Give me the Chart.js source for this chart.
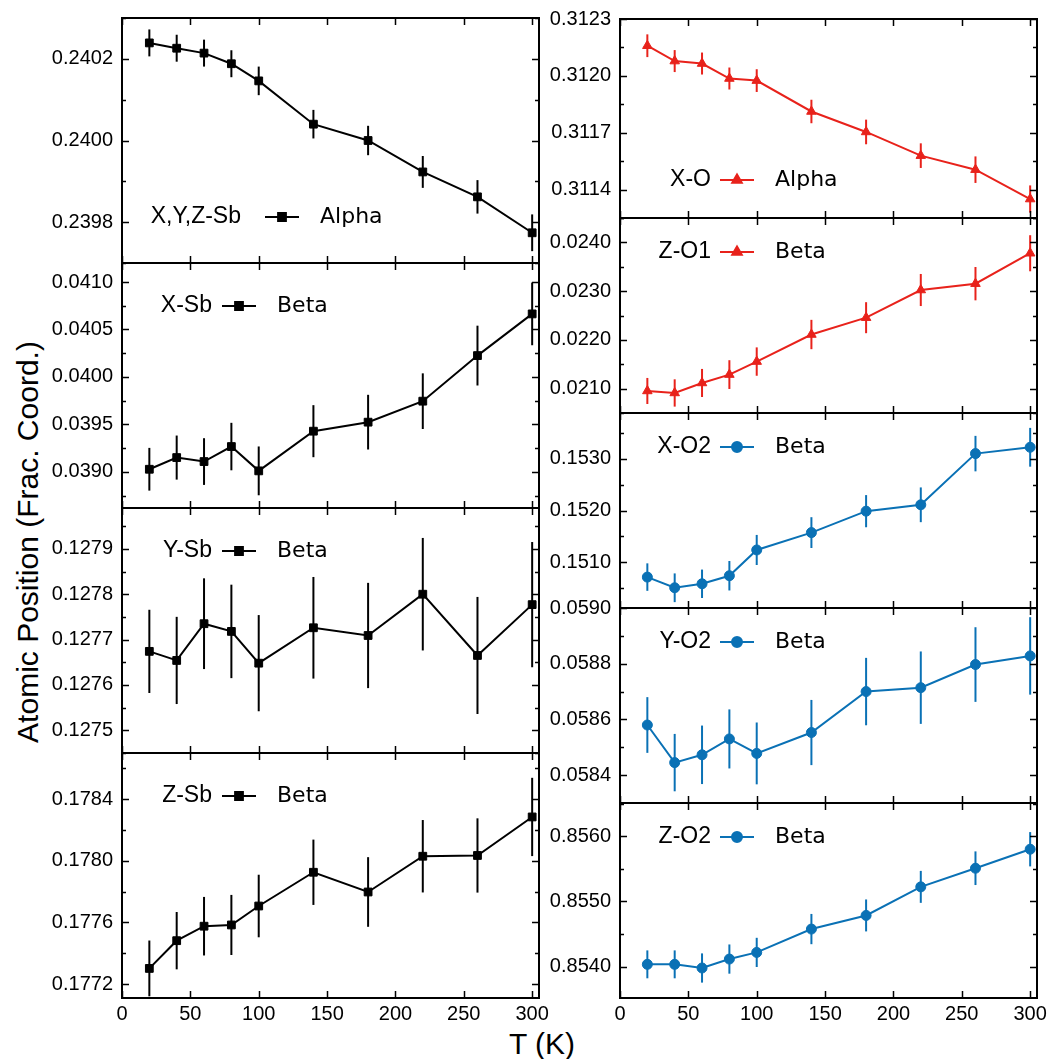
<!DOCTYPE html>
<html>
<head>
<meta charset="utf-8">
<script src="https://cdn.jsdelivr.net/npm/chart.js@4.4.1/dist/chart.umd.min.js"></script>
<style>
  body { margin: 0; background: #fff; width: 1052px; height: 1059px; position: relative; overflow: hidden; }
  canvas { position: absolute; }
  .title { position: absolute; font-family: "Liberation Sans", Arial, sans-serif; font-size: 30px; color: #000; white-space: nowrap; }
</style>
</head>
<body>
<div class="title" id="ytitle" style="left:28px;top:542px;transform:translate(-50%,-50%) rotate(-90deg);">Atomic Position (Frac. Coord.)</div>
<div class="title" id="xtitle" style="left:542px;top:1044px;transform:translate(-50%,-50%);">T (K)</div>
<script>
// temperatures (K)
const temps = [20, 40, 60, 80, 100, 140, 180, 220, 260, 300];
const xTicks = [0, 50, 100, 150, 200, 250, 300];

// Sb positions
const xyzSbAlpha    = [0.240239, 0.240226, 0.240214, 0.240188, 0.240146, 0.240040, 0.240000, 0.239923, 0.239862, 0.239774];
const xyzSbAlphaErr = [0.000033, 0.000033, 0.000033, 0.000033, 0.000035, 0.000035, 0.000036, 0.000039, 0.000041, 0.000045];
const xSbBeta    = [0.039028, 0.039151, 0.039109, 0.039267, 0.039011, 0.039429, 0.039524, 0.039745, 0.040225, 0.040664];
const xSbBetaErr = [0.000225, 0.000232, 0.000246, 0.000250, 0.000257, 0.000274, 0.000288, 0.000293, 0.000315, 0.000330];
const ySbBeta    = [0.127674, 0.127654, 0.127735, 0.127718, 0.127648, 0.127726, 0.127709, 0.127800, 0.127665, 0.127777];
const ySbBetaErr = [0.0000917, 0.0000961, 0.000100, 0.000103, 0.000106, 0.000112, 0.000116, 0.000124, 0.000129, 0.000138];
const zSbBeta    = [0.177302, 0.177482, 0.177576, 0.177584, 0.177707, 0.177926, 0.177798, 0.178030, 0.178035, 0.178285];
const zSbBetaErr = [0.000181, 0.000186, 0.000190, 0.000195, 0.000203, 0.000212, 0.000226, 0.000235, 0.000241, 0.000254];

// O positions
const xOAlpha    = [0.312159, 0.312078, 0.312065, 0.311986, 0.311975, 0.311812, 0.311704, 0.311579, 0.311505, 0.311350];
const xOAlphaErr = [0.000060, 0.000058, 0.000058, 0.000058, 0.000060, 0.000062, 0.000065, 0.000065, 0.000070, 0.000072];
const zO1Beta    = [0.020952, 0.020911, 0.021116, 0.021288, 0.021555, 0.022110, 0.022455, 0.023023, 0.023153, 0.023777];
const zO1BetaErr = [0.000267, 0.000280, 0.000288, 0.000295, 0.000291, 0.000301, 0.000318, 0.000329, 0.000342, 0.000370];
const xO2Beta    = [0.150716, 0.150510, 0.150587, 0.150742, 0.151239, 0.151574, 0.151987, 0.152110, 0.153097, 0.153219];
const xO2BetaErr = [0.000265, 0.000277, 0.000274, 0.000284, 0.000290, 0.000297, 0.000310, 0.000335, 0.000342, 0.000374];
const yO2Beta    = [0.058580, 0.058445, 0.058473, 0.058530, 0.058478, 0.058553, 0.058700, 0.058714, 0.058797, 0.058828];
const yO2BetaErr = [0.000100, 0.000103, 0.000105, 0.000106, 0.000111, 0.000117, 0.000121, 0.000130, 0.000134, 0.000139];
const zO2Beta    = [0.854036, 0.854036, 0.853980, 0.854117, 0.854219, 0.854577, 0.854786, 0.855224, 0.855510, 0.855801];
const zO2BetaErr = [0.000214, 0.000214, 0.000224, 0.000224, 0.000224, 0.000232, 0.000245, 0.000245, 0.000258, 0.000263];

// y tick labels for each panel
const ticksXyzSb = [0.2398, 0.2400, 0.2402];
const ticksXSb   = [0.0390, 0.0395, 0.0400, 0.0405, 0.0410];
const ticksYSb   = [0.1275, 0.1276, 0.1277, 0.1278, 0.1279];
const ticksZSb   = [0.1772, 0.1776, 0.1780, 0.1784];
const ticksXO    = [0.3114, 0.3117, 0.3120, 0.3123];
const ticksZO1   = [0.0210, 0.0220, 0.0230, 0.0240];
const ticksXO2   = [0.1510, 0.1520, 0.1530];
const ticksYO2   = [0.0584, 0.0586, 0.0588, 0.0590];
const ticksZO2   = [0.8540, 0.8550, 0.8560];

const BLACK = '#000000', RED = '#e8221b', BLUE = '#0a71b5';

// column geometry (pixels); padRight has to beat half of the "300" label
const cols = {
  left:  { canvasLeft: 0,   canvasWidth: 560, yAxisW: 122, padRight: 21 },
  right: { canvasLeft: 540, canvasWidth: 518, yAxisW: 80,  padRight: 21 }
};
// PAD must exceed half a y label plus tick padding, or Chart.js grows it itself
const PAD = 24, XAXIS_H = 30;

const panels = [
  { col: 'left', top: 18,  bottom: 263, data: xyzSbAlpha, err: xyzSbAlphaErr, ticks: ticksXyzSb, minor: 0.0001,  min: 0.23970, max: 0.24030, color: BLACK, marker: 'rect', r: 5.5, label: 'X,Y,Z-Sb', phase: 'Alpha', leg: { dx: 143, dy: 199, gap: 24 } },
  { col: 'left', top: 263, bottom: 508, data: xSbBeta, err: xSbBetaErr, ticks: ticksXSb, minor: 0.00025, min: 0.03862, max: 0.04120, color: BLACK, marker: 'rect', r: 5.5, label: 'X-Sb', phase: 'Beta', leg: { dx: 100, dy: 43, gap: 10 } },
  { col: 'left', top: 508, bottom: 753, data: ySbBeta, err: ySbBetaErr, ticks: ticksYSb, minor: 0.00005, min: 0.12745, max: 0.12799, color: BLACK, marker: 'rect', r: 5.5, label: 'Y-Sb', phase: 'Beta', leg: { dx: 100, dy: 43, gap: 10 } },
  { col: 'left', top: 753, bottom: 998, data: zSbBeta, err: zSbBetaErr, ticks: ticksZSb, minor: 0.0002,  min: 0.17711, max: 0.17870, color: BLACK, marker: 'rect', r: 5.5, label: 'Z-Sb', phase: 'Beta', leg: { dx: 100, dy: 43, gap: 10 }, xAxis: true },
  { col: 'right', top: 19,  bottom: 218, data: xOAlpha, err: xOAlphaErr, ticks: ticksXO, minor: 0.00015, min: 0.31125, max: 0.31230, color: RED, marker: 'triangle', r: 5.5, label: 'X-O', phase: 'Alpha', leg: { dx: 100, dy: 161, gap: 9 } },
  { col: 'right', top: 218, bottom: 413, data: zO1Beta, err: zO1BetaErr, ticks: ticksZO1, minor: 0.0005, min: 0.02050, max: 0.02450, color: RED, marker: 'triangle', r: 5.5, label: 'Z-O1', phase: 'Beta', leg: { dx: 100, dy: 34, gap: 9 } },
  { col: 'right', top: 413, bottom: 608, data: xO2Beta, err: xO2BetaErr, ticks: ticksXO2, minor: 0.0005, min: 0.15012, max: 0.15388, color: BLUE, marker: 'circle', r: 5, label: 'X-O2', phase: 'Beta', leg: { dx: 100, dy: 34, gap: 9 } },
  { col: 'right', top: 608, bottom: 803, data: yO2Beta, err: yO2BetaErr, ticks: ticksYO2, minor: 0.0001, min: 0.05830, max: 0.05900, color: BLUE, marker: 'circle', r: 5, label: 'Y-O2', phase: 'Beta', leg: { dx: 100, dy: 34, gap: 9 } },
  { col: 'right', top: 803, bottom: 998, data: zO2Beta, err: zO2BetaErr, ticks: ticksZO2, minor: 0.0005, min: 0.85352, max: 0.85651, color: BLUE, marker: 'circle', r: 5, label: 'Z-O2', phase: 'Beta', leg: { dx: 100, dy: 34, gap: 9 }, xAxis: true }
];

// vertical error bars, drawn through the chart's own scales
const errorBars = {
  id: 'errorBars',
  beforeDatasetsDraw(chart) {
    const p = chart.options.plugins.errorBars;
    const xs = chart.scales.x, ys = chart.scales.y, ctx = chart.ctx;
    ctx.save();
    ctx.strokeStyle = p.color;
    ctx.lineWidth = 2;
    p.data.forEach((v, i) => {
      const x = xs.getPixelForValue(temps[i]);
      ctx.beginPath();
      ctx.moveTo(x, ys.getPixelForValue(v - p.err[i]));
      ctx.lineTo(x, ys.getPixelForValue(v + p.err[i]));
      ctx.stroke();
    });
    ctx.restore();
  }
};

// box frame with inward ticks, plus the small legend
const frame = {
  id: 'frame',
  afterDraw(chart) {
    const p = chart.options.plugins.frame;
    const { left, right, top, bottom } = chart.chartArea;
    const xs = chart.scales.x, ys = chart.scales.y, ctx = chart.ctx;
    ctx.save();
    ctx.strokeStyle = '#000';
    ctx.lineWidth = 2;
    ctx.strokeRect(left, top, right - left, bottom - top);

    ctx.lineWidth = 1.5;
    ctx.beginPath();
    // major y ticks
    p.ticks.forEach(v => {
      const y = Math.round(ys.getPixelForValue(v)) + 0.5;
      ctx.moveTo(left, y); ctx.lineTo(left + 7, y);
      ctx.moveTo(right, y); ctx.lineTo(right - 7, y);
    });
    // minor y ticks
    const k0 = Math.ceil(p.min / p.minor - 1e-6), k1 = Math.floor(p.max / p.minor + 1e-6);
    for (let k = k0; k <= k1; k++) {
      const v = k * p.minor;
      if (p.ticks.some(t => Math.abs(t - v) < p.minor * 0.01)) continue;
      const y = Math.round(ys.getPixelForValue(v)) + 0.5;
      ctx.moveTo(left, y); ctx.lineTo(left + 4, y);
      ctx.moveTo(right, y); ctx.lineTo(right - 4, y);
    }
    // x ticks top and bottom
    xTicks.forEach(v => {
      const x = Math.round(xs.getPixelForValue(v)) + 0.5;
      ctx.moveTo(x, top); ctx.lineTo(x, top + 7);
      ctx.moveTo(x, bottom); ctx.lineTo(x, bottom - 7);
    });
    ctx.stroke();

    // legend: label, line sample with marker, phase name
    const lx = left + p.leg.dx, ly = top + p.leg.dy;
    ctx.fillStyle = '#000';
    ctx.textBaseline = 'middle';
    ctx.textAlign = 'right';
    ctx.font = '23px "Liberation Sans", Arial, sans-serif';
    ctx.fillText(p.label, lx - p.leg.gap, ly);
    ctx.strokeStyle = p.color;
    ctx.lineWidth = 2;
    ctx.beginPath();
    ctx.moveTo(lx, ly); ctx.lineTo(lx + 34, ly);
    ctx.stroke();
    ctx.fillStyle = p.color;
    Chart.helpers.drawPoint(ctx, { pointStyle: p.marker, radius: p.r, rotation: 0, borderWidth: 1 }, lx + 17, ly);
    ctx.fillStyle = '#000';
    ctx.textAlign = 'left';
    ctx.font = '22px "DejaVu Sans", sans-serif';
    ctx.fillText(p.phase, lx + 34 + 21, ly);
    ctx.restore();
  }
};

const tickFont = { family: '"Liberation Sans", Arial, sans-serif', size: 20 };

panels.forEach(p => {
  const c = cols[p.col];
  const h = (p.bottom - p.top) + 2 * PAD + (p.xAxis ? XAXIS_H : 0);
  const cv = document.createElement('canvas');
  cv.width = c.canvasWidth;
  cv.height = h;
  cv.style.left = c.canvasLeft + 'px';
  cv.style.top = (p.top - PAD) + 'px';
  document.body.appendChild(cv);

  new Chart(cv.getContext('2d'), {
    type: 'line',
    data: {
      datasets: [{
        data: temps.map((t, i) => ({ x: t, y: p.data[i] })),
        borderColor: p.color,
        backgroundColor: p.color,
        borderWidth: 2,
        pointStyle: p.marker,
        pointRadius: p.r,
        pointBorderWidth: 1,
        pointBorderColor: p.color,
        pointBackgroundColor: p.color,
        tension: 0,
        fill: false,
        clip: false
      }]
    },
    options: {
      responsive: false,
      animation: false,
      devicePixelRatio: 1,
      layout: { autoPadding: false, padding: { left: 0, right: c.padRight, top: PAD, bottom: PAD } },
      plugins: {
        legend: { display: false },
        tooltip: { enabled: false },
        errorBars: { data: p.data, err: p.err, color: p.color },
        frame: { ticks: p.ticks, minor: p.minor, min: p.min, max: p.max, label: p.label, phase: p.phase, color: p.color, marker: p.marker, r: p.r, leg: p.leg }
      },
      scales: {
        x: {
          type: 'linear',
          min: 0,
          max: 305,
          display: !!p.xAxis,
          grid: { display: false, drawTicks: false },
          border: { display: false },
          afterBuildTicks: s => { s.ticks = xTicks.map(v => ({ value: v })); },
          afterFit: s => { s.height = p.xAxis ? XAXIS_H : 0; },
          ticks: { font: tickFont, color: '#000', padding: 4, maxRotation: 0, autoSkip: false, callback: v => String(v) }
        },
        y: {
          type: 'linear',
          min: p.min,
          max: p.max,
          grid: { display: false, drawTicks: false },
          border: { display: false },
          afterBuildTicks: s => { s.ticks = p.ticks.map(v => ({ value: v })); },
          afterFit: s => { s.width = c.yAxisW; },
          ticks: { font: tickFont, color: '#000', padding: 9, autoSkip: false, callback: v => v.toFixed(4) }
        }
      }
    },
    plugins: [errorBars, frame]
  });
});
</script>
</body>
</html>
